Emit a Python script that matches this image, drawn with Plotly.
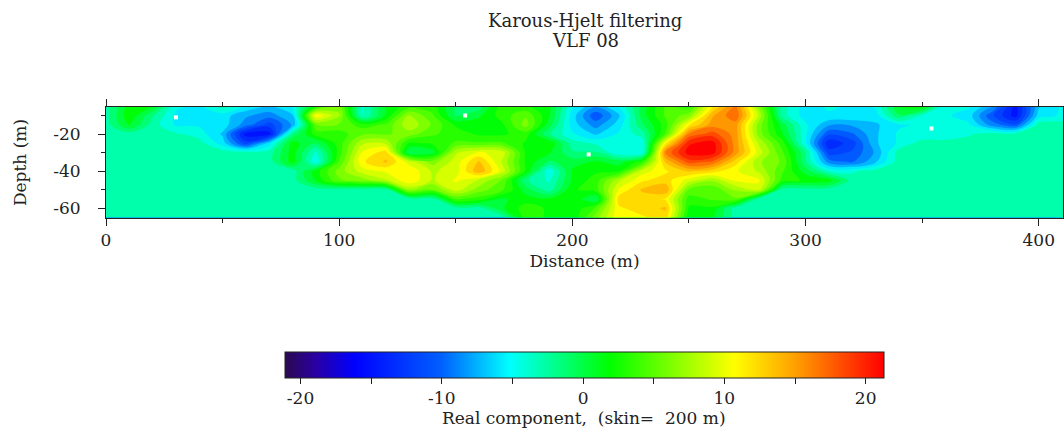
import plotly.graph_objects as go

distance = list(range(0, 420, 10))
depth = [-5, -10, -15, -20, -25, -30, -35, -40, -45, -50, -55, -60, -65]

d05 = [-3, 1.5, 1, -5, -5.5, -3, -5.5, -7, -5, 2, 6, -4, 1, 3, 3, -1, -1.5, 3, 2.5, 1, -5, -8, -5, 0, 4, 3, 11, 16, 6, -3, -6, -5, -5.5, -5, 1, 2, -5, -5, -8, -15, -7, -5]
d10 = [-3, 2, -2, -5.5, -5.5, -6, -8, -9, -7, 11, 7, -4, 1, 7, 4, -1, 0.5, 3, 5, 1, -6, -11, -7, 0, 4, 6, 14, 17, 8, -3, -6, -5.5, -5.5, -6, -1, -4, -5, -6, -11, -15, -6, -5]
d15 = [-3, 1, -3, -5.5, -5.5, -6, -9, -12, -8, 5, 5, 3, 4, 8, 5, 2, 1.5, 2, 6, 0, -6, -9, -6, -1, 3, 11, 15, 15, 6, 0, -5, -8, -8, -7, -5.5, -5, -5, -5, -9, -11, -3, -3]
d20 = [-3, -3, -3, -3.5, -4.5, -7, -15, -15, -2, 3, 3, 5, 5, 6, 4, 3, 2, 2, 3, -2, -5, -7, -5, -3, 4, 16, 18, 15, 6, 1, -5, -11, -10, -7, -5, -5, -5, -4, -3, -3, -3, -3]
d25 = [-3, -3, -3, -3, -3, -6, -12, -6, 1.5, -1, 3, 8, 8, 2, 2.5, 4, 4, 4, 2, 2, -3, -4, -5, -5, 11, 20, 21, 15, 8, 3, -5, -14, -12, -7, -5, -3, -3, -3, -3, -3, -3, -3]
d30 = [-3, -3, -3, -3, -3, -3, -3, -3, 1.5, -4, 3, 10, 12, -1, 0, 8, 10, 9, 2, 1, -2, -2, -5, -5, 16, 21, 21, 15, 9, 4, -2, -12, -11, -8, -3, -3, -3, -3, -3, -3, -3, -3]
d35 = [-3, -3, -3, -3, -3, -3, -3, -3, 1.5, -5, 4, 11, 13, 9, 6, 9, 13, 8, 2, -1, 0, 1, 0, 3, 13, 18, 17, 12, 7, 5, -2, -9, -10, -7, -3, -3, -3, -3, -3, -3, -3, -3]
d40 = [-3, -3, -3, -3, -3, -3, -3, -3, -3, 1.5, 6, 9, 10, 11, 8, 9, 14, 9, 2, -5, 1, 2, 2, 9, 11, 13, 12, 10, 8, 4, 0, -4, -4, -3, -3, -3, -3, -3, -3, -3, -3, -3]
d45 = [-3, -3, -3, -3, -3, -3, -3, -3, -3, 1, 5, 6, 8, 11, 8, 10, 8, 5, -2, -4, 1, 3, 8, 11, 12, 9, 7, 10, 10, 3, 2, 1.5, -3, -3, -3, -3, -3, -3, -3, -3, -3, -3]
d50 = [-3, -3, -3, -3, -3, -3, -3, -3, -3, -3, -3, -3, -3, 7, 5, 9, 6, 4, 0, -3, 2, 3, 10, 13, 14, 5, 4, 7, 9, -3, -3, -3, -3, -3, -3, -3, -3, -3, -3, -3, -3, -3]
d55 = [-3, -3, -3, -3, -3, -3, -3, -3, -3, -3, -3, -3, -3, -3, -3, 4, 3, 0.5, 1.5, 1, 2, -1, 12, 12, 11, 3, 4, 5, -3, -3, -3, -3, -3, -3, -3, -3, -3, -3, -3, -3, -3, -3]
d60 = [-3, -3, -3, -3, -3, -3, -3, -3, -3, -3, -3, -3, -3, -3, -3, -3, -3, 0.5, 3, 2, 1, 4, 11, 12, 13, 2, 2, -3, -3, -3, -3, -3, -3, -3, -3, -3, -3, -3, -3, -3, -3, -3]
d65 = [-3, -3, -3, -3, -3, -3, -3, -3, -3, -3, -3, -3, -3, -3, -3, -3, -3, -3, 3, 2, 1, 6, 11, 11, 12, 1, 1, -3, -3, -3, -3, -3, -3, -3, -3, -3, -3, -3, -3, -3, -3, -3]
z = [d05, d10, d15, d20, d25, d30, d35, d40, d45, d50, d55, d60, d65]

blank_x = [30, 154, 207, 354]
blank_y = [-11, -10, -31, -17]

scale_min, scale_max = -21.1, 21.3
stops = [(-21.1, "#2a0a50"), (-19, "#2a00a0"), (-16.2, "#0000ff"), (-10, "#0060ff"), (-5.2, "#00ffff"),
         (1.9, "#00ff00"), (10.7, "#ffff00"), (15, "#ffa000"), (21.3, "#ff0000")]
colorscale = [[(v - scale_min) / (scale_max - scale_min), c] for v, c in stops]

SERIF = "DejaVu Serif"
INK = "#222222"
tick_font = dict(family=SERIF, size=17, color=INK)
label_font = dict(family=SERIF, size=17, color=INK)
title_font = dict(family=SERIF, size=18, color=INK)

fig = go.Figure()
fig.add_trace(go.Heatmap(
    x=distance, y=depth, z=z, colorscale=colorscale, zmin=scale_min, zmax=scale_max,
    zsmooth="best", hoverinfo="skip",
    colorbar=dict(
        orientation="h", xref="paper", yref="container", x=(285 - 106) / 957, y=1 - 352 / 430,
        xanchor="left", yanchor="top", lenmode="pixels", len=599, thickness=26,
        xpad=0, ypad=0, outlinewidth=1, outlinecolor="#222222",
        tickvals=[-20, -15, -10, -5, 0, 5, 10, 15, 20],
        ticktext=["-20", "", "-10", "", "0", "", "10", "", "20"],
        ticks="outside", ticklen=6, tickcolor=INK, tickfont=tick_font,
    ),
))
fig.add_trace(go.Contour(
    x=distance, y=depth, z=z, colorscale=colorscale, zmin=scale_min, zmax=scale_max,
    showscale=False, hoverinfo="skip", line=dict(width=0),
    contours=dict(coloring="fill", start=-21.75, end=21.75, size=1.5, showlines=False),
))
fig.add_trace(go.Scatter(x=blank_x, y=blank_y, mode="markers", hoverinfo="skip", showlegend=False,
                         marker=dict(color="white", size=4, symbol="square")))

axis_common = dict(showgrid=False, zeroline=False, showline=True, linecolor=INK, linewidth=1,
                   mirror="ticks", ticks="outside", ticklen=7, tickcolor=INK, tickfont=tick_font)
fig.update_xaxes(**axis_common, range=[0, 410.4], tickvals=[0, 100, 200, 300, 400],
                 minor=dict(tickvals=[50, 150, 250, 350], ticks="outside", ticklen=4, tickcolor=INK),
                 title=dict(text="Distance (m)", standoff=5, font=label_font))
fig.update_yaxes(**axis_common, range=[-65.3, -5.4], tickvals=[-20, -40, -60],
                 ticktext=["-20", "-40", "-60"], ticklabelstandoff=14,
                 minor=dict(tickvals=[-10, -30, -50], ticks="outside", ticklen=4, tickcolor=INK),
                 title=dict(text="Depth (m)", standoff=22, font=label_font))
fig.update_layout(
    width=1064, height=430, autosize=False, paper_bgcolor="white", plot_bgcolor="white",
    margin=dict(l=106, r=1, t=107, b=212, autoexpand=False),
    annotations=[
        dict(text="Karous-Hjelt filtering", xref="paper", yref="paper", x=(585 - 106) / 957,
             y=1 + (107 - 21) / 111, xanchor="center", yanchor="middle", showarrow=False, font=title_font),
        dict(text="VLF 08", xref="paper", yref="paper", x=(585 - 106) / 957,
             y=1 + (107 - 40) / 111, xanchor="center", yanchor="middle", showarrow=False, font=title_font),
        dict(text="Real component,  (skin=  200 m)", xref="paper", yref="paper",
             x=(584 - 106) / 957, y=-(418 - 218) / 111, xanchor="center", yanchor="middle",
             showarrow=False, font=label_font),
    ],
)
fig.write_html("out.html", post_script="document.body.style.margin='0';", config=dict(displayModeBar=False))
